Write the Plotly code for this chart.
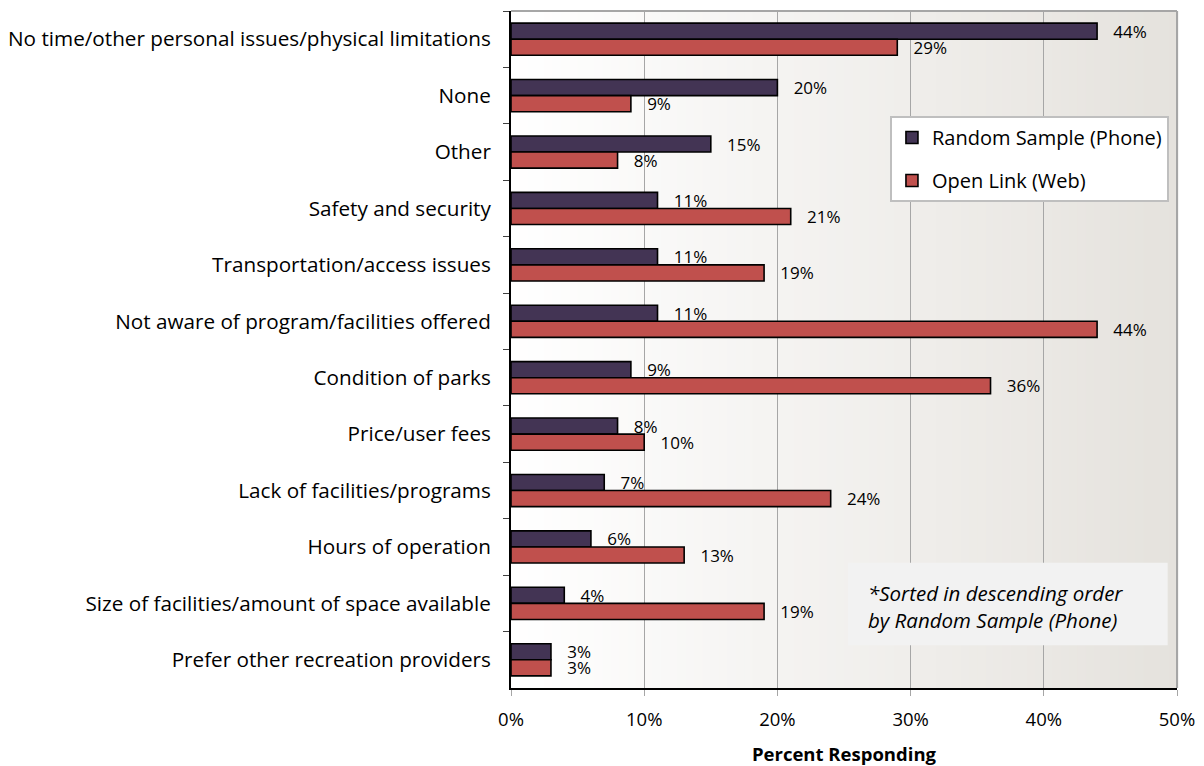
import plotly.graph_objects as go

categories = [
    "No time/other personal issues/physical limitations",
    "None",
    "Other",
    "Safety and security",
    "Transportation/access issues",
    "Not aware of program/facilities offered",
    "Condition of parks",
    "Price/user fees",
    "Lack of facilities/programs",
    "Hours of operation",
    "Size of facilities/amount of space available",
    "Prefer other recreation providers",
]
phone = [44, 20, 15, 11, 11, 11, 9, 8, 7, 6, 4, 3]
web = [29, 9, 8, 21, 19, 44, 36, 10, 24, 13, 19, 3]
x_ticks = [0, 10, 20, 30, 40, 50]

FONT = "Open Sans"
PURPLE = "#433454"
RED = "#c0504d"
PAD = "\u00a0\u00a0\u00a0"  # small gap between bar end and its value label

fig = go.Figure()
for name, vals, color, grp in [
    ("Random Sample (Phone)", phone, PURPLE, "a"),
    ("Open Link (Web)", web, RED, "b"),
]:
    fig.add_trace(go.Bar(
        y=categories, x=vals, orientation="h", name=name,
        marker=dict(color=color, line=dict(color="#000000", width=1.6)),
        text=[f"{PAD}{v}%" for v in vals], textposition="outside",
        constraintext="none",
        textfont=dict(family=FONT, size=17, color="#000000"),
        legendgroup=grp, cliponaxis=False,
    ))

# horizontal gradient background of the plot area (white to warm gray)
shapes = []
n = 80
c0 = (255, 255, 255)
c1 = (229, 226, 221)
for i in range(n):
    t = (i + 0.5) / n
    col = tuple(round(c0[k] + (c1[k] - c0[k]) * t) for k in range(3))
    shapes.append(dict(
        type="rect", xref="paper", yref="paper",
        x0=i / n, x1=(i + 1) / n + 0.002, y0=0, y1=1,
        fillcolor="rgb(%d,%d,%d)" % col, line=dict(width=0), layer="below",
    ))
# gray frame on top and right edges
shapes.append(dict(type="line", xref="paper", yref="paper", x0=0, x1=1, y0=1, y1=1,
                   line=dict(color="#a6a6a6", width=2), layer="above"))
shapes.append(dict(type="line", xref="paper", yref="paper", x0=1, x1=1, y0=0, y1=1,
                   line=dict(color="#a6a6a6", width=2), layer="above"))
# note box
shapes.append(dict(type="rect", xref="paper", yref="paper",
                   x0=0.506, x1=0.986, y0=0.063, y1=0.185,
                   fillcolor="#f2f2f2", line=dict(width=0), layer="above"))

fig.update_layout(
    width=1204, height=766,
    margin=dict(l=511, r=27, t=11, b=78, autoexpand=False),
    paper_bgcolor="#ffffff", plot_bgcolor="rgba(0,0,0,0)",
    barmode="group", bargap=0.43, bargroupgap=0,
    font=dict(family=FONT, size=18, color="#000000"),
    shapes=shapes,
    showlegend=True,
    legend=dict(
        x=0.569, y=0.845, xanchor="left", yanchor="top",
        bgcolor="#ffffff", bordercolor="#bfbfbf", borderwidth=2,
        font=dict(family=FONT, size=20, color="#000000"),
        tracegroupgap=14, traceorder="grouped",
        itemwidth=30,
    ),
    annotations=[dict(
        xref="paper", yref="paper", x=0.533, y=0.121, xanchor="left", yanchor="middle",
        text="<i>*Sorted in descending order<br>by Random Sample (Phone)</i>",
        showarrow=False, align="left",
        font=dict(family=FONT, size=20.5, color="#000000"),
    )],
)
fig.update_xaxes(
    range=[0, 50], tickvals=x_ticks, ticktext=[f"{v}%" for v in x_ticks],
    showgrid=True, gridcolor="#a6a6a6", gridwidth=1,
    showline=True, linecolor="#000000", linewidth=2,
    ticks="outside", ticklen=6, tickcolor="#a6a6a6", tickwidth=1,
    ticklabelstandoff=8, zeroline=False, automargin=False,
    tickfont=dict(family=FONT, size=18.5),
    title=dict(text="<b>Percent Responding</b>", standoff=21,
               font=dict(family=FONT, size=18.5)),
)
fig.update_yaxes(
    autorange="reversed", type="category",
    showline=True, linecolor="#000000", linewidth=2,
    ticks="outside", ticklen=6, tickcolor="#404040", tickwidth=1,
    tickson="boundaries", ticklabelstandoff=14, showgrid=False,
    automargin=False,
    tickfont=dict(family=FONT, size=20.7),
)

fig.write_html("out.html")
